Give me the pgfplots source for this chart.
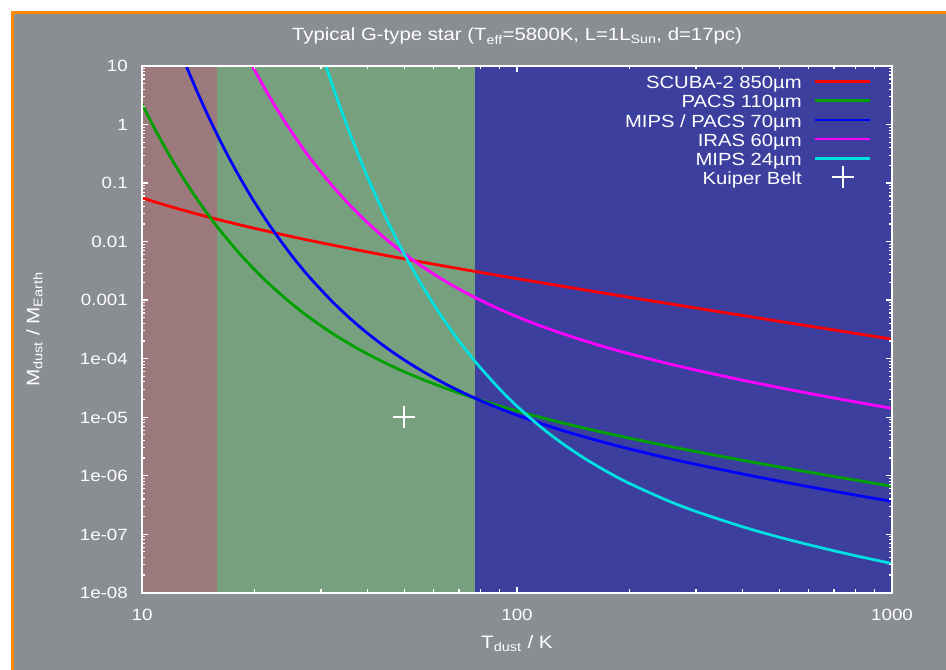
\documentclass[border=0pt]{standalone}
\usepackage{pgfplots}
\pgfplotsset{compat=1.18}
\usepackage{fontspec}
\setmainfont{Liberation Sans}[FakeStretch=1.15]

\definecolor{bgray}{HTML}{8A8D92}
\definecolor{sborder}{HTML}{FF8C00}
\definecolor{zcold}{HTML}{9B797D}
\definecolor{zmid}{HTML}{77A07F}
\definecolor{zhot}{HTML}{3D3F9F}
\definecolor{cgreen}{HTML}{00A000}
\definecolor{cmag}{HTML}{FF00FF}
\definecolor{ccyan}{HTML}{00E0E0}

\newcommand\titlefont{\fontsize{17.7bp}{21bp}\selectfont}
\newcommand\legfont{\fontsize{17.6bp}{20bp}\selectfont}
\newcommand\tickfont{\fontsize{16.3bp}{19bp}\selectfont}
\newcommand\labfont{\fontsize{18bp}{21bp}\selectfont}

% legend entry for the marker: keep its box as small as a line entry
\pgfplotsset{kuiperlegend/.style={legend image code/.code={%
  \pgfinterruptboundingbox\draw[##1] plot coordinates {(27.5bp,3.5bp)};\endpgfinterruptboundingbox
  \path[draw=none] (0bp,3.5bp) (55bp,3.5bp);}}}

\begin{document}
\begin{tikzpicture}[x=1bp,y=1bp]
\path[use as bounding box] (0,0) rectangle (946,670);
\fill[white] (0,0) rectangle (946,670);
\fill[bgray] (12.5,0) rectangle (946,657.5);
\draw[sborder, line width=2.5bp] (12.5,0) -- (12.5,657.5) -- (946,657.5);
\node[white, font=\titlefont, anchor=base] at (517,629)
  {Typical G-type star (T\textsubscript{eff}=5800K, L=1L\textsubscript{Sun}, d=17pc)};

\begin{axis}[
  at={(142bp,77.3bp)}, anchor=south west,
  scale only axis, width=750bp, height=526.7bp,
  xmode=log, ymode=log,
  xmin=10, xmax=1000, ymin=1e-8, ymax=10,
  axis line style={white, line width=1.8bp},
  axis on top,
  tick align=inside,
  every tick/.style={white, line width=1.2bp},
  major tick length=6bp, minor tick length=3.5bp,
  xtick={10,100,1000}, xticklabels={10,100,1000},
  minor xtick={20,30,40,50,60,70,80,90,200,300,400,500,600,700,800,900},
  ytick={1e-8,1e-7,1e-6,1e-5,1e-4,1e-3,1e-2,1e-1,1,10},
  yticklabels={1e-08,1e-07,1e-06,1e-05,1e-04,0.001,0.01,0.1,1,10},
  minor ytick={2e-8,3e-8,4e-8,5e-8,6e-8,7e-8,8e-8,9e-8,
    2e-7,3e-7,4e-7,5e-7,6e-7,7e-7,8e-7,9e-7,
    2e-6,3e-6,4e-6,5e-6,6e-6,7e-6,8e-6,9e-6,
    2e-5,3e-5,4e-5,5e-5,6e-5,7e-5,8e-5,9e-5,
    2e-4,3e-4,4e-4,5e-4,6e-4,7e-4,8e-4,9e-4,
    2e-3,3e-3,4e-3,5e-3,6e-3,7e-3,8e-3,9e-3,
    2e-2,3e-2,4e-2,5e-2,6e-2,7e-2,8e-2,9e-2,
    0.2,0.3,0.4,0.5,0.6,0.7,0.8,0.9,2,3,4,5,6,7,8,9},
  x tick label style={white, font=\tickfont, anchor=base, inner sep=0pt, yshift=-27.3bp},
  y tick label style={white, font=\tickfont, anchor=base east, inner sep=0pt, xshift=-14bp, yshift=-5.9bp},
  xlabel={T\textsubscript{dust} / K},
  ylabel={M\textsubscript{dust} / M\textsubscript{Earth}},
  xlabel style={white, font=\labfont, at={(axis description cs:0.5,-0.105)}, anchor=base},
  ylabel style={white, font=\labfont, at={(axis description cs:-0.137,0.5)}, anchor=base},
  legend plot pos=right,
  legend cell align=right,
  legend style={draw=none, fill=none, text=white, font=\legfont,
    at={(rel axis cs:0.9733,0.982)}, anchor=north east, inner sep=0pt,
    row sep=0bp, nodes={inner sep=0pt, text height=13.2bp, text depth=5.9bp},
    /tikz/every odd column/.append style={column sep=12.3bp}},
  legend image code/.code={\draw[#1] (0bp,3.5bp) -- (55bp,3.5bp);},
  every axis plot/.append style={line width=2.8bp},
]
% temperature zones
\addplot[draw=none, fill=zcold, forget plot] coordinates {(10,1e-8) (15.8,1e-8) (15.8,10) (10,10)} -- cycle;
\addplot[draw=none, fill=zmid, forget plot] coordinates {(15.8,1e-8) (77.1,1e-8) (77.1,10) (15.8,10)} -- cycle;
\addplot[draw=none, fill=zhot, forget plot] coordinates {(77.1,1e-8) (1000,1e-8) (1000,10) (77.1,10)} -- cycle;

% SCUBA-2 850um
\addplot[red, smooth] coordinates {
  (10,0.0559) (11,0.04612) (12,0.0390) (13,0.03374) (15,0.02635) (17,0.02151)
  (20,0.01678) (25,0.01220) (30,0.009553) (40,0.006639) (50,0.005078)
  (60,0.004108) (80,0.002970) (100,0.002325) (150,0.001506) (200,0.001113)
  (300,7.32e-4) (400,5.45e-4) (500,4.34e-4) (700,3.085e-4) (1000,2.151e-4)
};
% PACS 110um
\addplot[cgreen, smooth] coordinates {
  (10,2.26) (10.5,1.213) (11,0.689) (12,0.2557) (13,0.1106) (14,0.05389)
  (15,0.02891) (16,0.01676) (18,6.755e-3) (20,3.265e-3) (22,1.799e-3)
  (25,8.79e-4) (28,4.996e-4) (32,2.766e-4) (36,1.739e-4) (40,1.195e-4)
  (45,8.16e-5) (50,5.98e-5) (56,4.407e-5) (63,3.293e-5) (70,2.587e-5)
  (80,1.949e-5) (90,1.547e-5) (100,1.274e-5) (115,1.0e-5) (130,8.19e-6)
  (150,6.57e-6) (175,5.25e-6) (200,4.357e-6) (250,3.245e-6) (300,2.58e-6)
  (400,1.826e-6) (500,1.411e-6) (650,1.052e-6) (800,8.39e-7) (1000,6.6e-7)
};
% MIPS / PACS 70um
\addplot[blue, smooth] coordinates {
  (12,43.4) (13,11.6) (14,3.762) (15,1.414) (16,0.6006) (17,0.2821)
  (18,0.1441) (19,0.07905) (20,0.04603) (22,0.01809) (25,5.894e-3)
  (28,2.442e-3) (32,9.75e-4) (36,4.77e-4) (40,2.686e-4) (45,1.511e-4)
  (50,9.51e-5) (56,6.07e-5) (63,3.983e-5) (70,2.829e-5) (80,1.912e-5)
  (90,1.398e-5) (100,1.08e-5) (115,7.89e-6) (130,6.12e-6) (150,4.66e-6)
  (175,3.548e-6) (200,2.848e-6) (250,2.023e-6) (300,1.561e-6) (400,1.066e-6)
  (500,8.07e-7) (650,5.9e-7) (800,4.65e-7) (1000,3.62e-7)
};
% IRAS 60um
\addplot[cmag, smooth] coordinates {
  (18,31.8) (19,15.75) (20,8.38) (21,4.73) (22,2.817) (23,1.754)
  (25,0.7617) (28,0.2724) (32,0.0934) (36,0.04058) (40,0.02083)
  (45,0.01067) (50,6.24e-3) (56,3.713e-3) (63,2.287e-3) (70,1.547e-3)
  (80,9.9e-4) (90,6.95e-4) (100,5.2e-4) (115,3.66e-4) (130,2.77e-4)
  (150,2.052e-4) (175,1.527e-4) (200,1.205e-4) (250,8.37e-5) (300,6.37e-5)
  (400,4.27e-5) (500,3.2e-5) (650,2.319e-5) (800,1.817e-5) (1000,1.41e-5)
};
% MIPS 24um
\addplot[ccyan, smooth] coordinates {
  (30,18.3) (31,9.62) (32,5.255) (33,2.98) (34,1.746) (36,0.6557)
  (38,0.2727) (40,0.124) (42,0.06071) (45,0.02345) (50,6.186e-3)
  (56,1.713e-3) (63,5.21e-4) (70,2.012e-4) (77,9.23e-5) (80,6.9e-5)
  (90,2.996e-5) (100,1.537e-5) (115,7.01e-6) (130,3.826e-6) (150,2.05e-6)
  (175,1.142e-6) (200,7.31e-7) (250,3.84e-7) (300,2.448e-7) (400,1.335e-7)
  (500,8.89e-8) (650,5.82e-8) (800,4.28e-8) (1000,3.15e-8)
};
% Kuiper Belt
\addplot[white, only marks, mark=+, mark size=10.8bp, mark options={line width=2bp}, kuiperlegend]
  coordinates {(50,1e-5)};

\legend{SCUBA-2 850µm, PACS 110µm, MIPS / PACS 70µm, IRAS 60µm, MIPS 24µm, Kuiper Belt}
\end{axis}
\end{tikzpicture}
\end{document}
